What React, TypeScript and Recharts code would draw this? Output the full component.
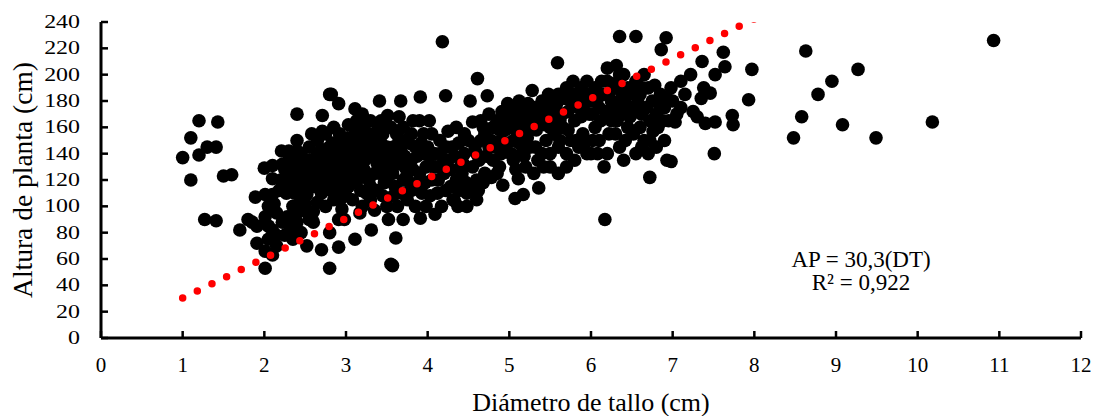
import { ScatterChart, Scatter, XAxis, YAxis } from "recharts";

// diámetro de tallo (cm), altura de planta (cm)
const leftGroup = [
  [1.0, 137], [1.1, 152], [1.2, 165], [1.43, 164], [1.2, 139], [1.3, 145], [1.41, 145],
  [1.1, 120], [1.5, 123], [1.6, 124], [1.27, 90], [1.41, 89],
];

const group2 = [
  [1.7, 82], [1.8, 90], [1.91, 85], [1.89, 107], [2.01, 109], [2.1, 109], [2.01, 92],
  [2.1, 82], [1.91, 72], [2.01, 66], [2.1, 63], [2.01, 53], [2.0, 129], [2.1, 121],
  [2.1, 131], [2.21, 142], [1.85, 88], [2.05, 100], [2.15, 95], [2.05, 75], [2.15, 70],
  [2.25, 128], [2.3, 135], [2.35, 122], [2.4, 130], [2.45, 140], [2.3, 115], [2.4, 118],
  [2.5, 125], [2.5, 112], [2.45, 105], [2.3, 142], [2.55, 135], [2.2, 120], [2.4, 170],
  [2.4, 150], [2.4, 142], [2.31, 119], [2.52, 109], [2.52, 96], [2.4, 88], [2.31, 82],
  [2.52, 70], [2.6, 96], [2.6, 88], [2.45, 80], [2.35, 75],
  [2.05, 85], [2.12, 102], [2.18, 112], [2.22, 132], [2.28, 125], [2.33, 130], [2.38, 137],
  [2.43, 125], [2.48, 132], [2.53, 118], [2.57, 128], [2.27, 110], [2.37, 110], [2.47, 118],
  [2.15, 78], [2.22, 88], [2.28, 92], [2.35, 100], [2.42, 96], [2.5, 102], [2.55, 90],
  [2.32, 90], [2.25, 78],
];

const group3 = [
  [2.6, 130], [2.65, 140], [2.7, 125], [2.75, 135], [2.8, 145], [2.85, 120], [2.9, 130],
  [2.95, 150], [2.6, 115], [2.7, 110], [2.8, 118], [2.9, 112], [2.65, 150], [2.75, 155],
  [2.85, 160], [2.95, 140], [2.71, 169], [2.71, 157], [2.8, 185], [2.91, 178], [2.82, 185],
  [2.7, 67], [2.8, 53], [2.91, 69], [2.8, 80], [2.91, 90], [2.75, 100], [2.85, 105],
  [2.95, 98], [2.65, 103], [2.55, 145], [2.62, 122], [2.78, 128], [2.88, 138], [2.98, 125],
  [2.98, 115], [2.68, 118], [2.58, 155], [2.92, 155], [2.83, 148], [2.72, 143],
  [3.0, 130], [3.05, 140], [3.1, 150], [3.15, 160], [3.2, 170], [3.11, 174], [3.05, 120],
  [3.1, 125], [3.15, 135], [3.2, 145], [3.25, 155], [3.3, 165], [3.35, 150], [3.4, 140],
  [3.45, 130], [3.5, 120], [3.3, 115], [3.25, 110], [3.35, 125], [3.4, 160], [3.45, 155],
  [3.5, 145], [3.51, 169], [3.41, 180], [3.0, 108], [3.17, 95], [3.35, 97], [3.31, 82],
  [3.11, 75], [2.98, 90], [3.2, 100], [3.3, 105], [3.45, 108], [3.5, 100], [3.52, 90],
  [3.03, 162], [3.12, 118], [3.22, 128], [3.28, 140], [3.38, 133], [3.48, 137], [3.18, 152],
  [3.08, 145],
  [2.63, 137], [2.68, 132], [2.73, 122], [2.77, 113], [2.82, 133], [2.87, 126], [2.93, 120],
  [2.97, 135], [3.02, 145], [3.07, 132], [3.13, 140], [3.18, 122], [3.23, 135], [3.27, 148],
  [3.32, 138], [3.37, 145], [3.42, 125], [3.47, 118], [3.33, 155], [3.13, 165], [3.23, 162],
  [2.88, 145], [2.83, 112], [2.93, 105], [3.03, 115], [3.08, 105], [3.38, 112], [3.43, 148],
  [2.67, 127], [2.77, 140], [3.28, 120], [3.18, 112], [3.02, 152], [3.12, 157], [3.43, 165],
  [3.48, 128], [3.15, 128], [3.25, 140],
];

const group4 = [
  [3.55, 130], [3.6, 140], [3.65, 150], [3.7, 160], [3.75, 125], [3.8, 135], [3.85, 145],
  [3.9, 165], [3.91, 183], [3.67, 180], [3.95, 155], [3.6, 115], [3.7, 120], [3.8, 112],
  [3.9, 125], [3.95, 140], [3.57, 55], [3.61, 76], [3.7, 90], [3.63, 100], [3.91, 91],
  [3.85, 100], [3.75, 105], [3.55, 160], [3.65, 168], [3.8, 155], [3.98, 130], [3.58, 145],
  [3.72, 138], [3.88, 118], [3.55, 56],
  [4.09, 94], [4.17, 100], [4.31, 105], [4.48, 100], [4.33, 104], [4.05, 120], [4.1, 130],
  [4.15, 140], [4.2, 125], [4.25, 135], [4.3, 145], [4.35, 120], [4.4, 130], [4.45, 140],
  [4.5, 150], [4.25, 157], [4.22, 184], [4.18, 225], [4.0, 145], [4.05, 155], [4.12, 110],
  [4.38, 112], [4.42, 125], [4.28, 115], [4.47, 118], [4.15, 150], [4.35, 160], [4.45, 155],
  [4.02, 165],
  [3.53, 135], [3.57, 125], [3.62, 132], [3.67, 142], [3.72, 130], [3.77, 148], [3.82, 128],
  [3.87, 138], [3.92, 148], [3.97, 118], [3.62, 155], [3.72, 150], [3.82, 165], [3.93, 110],
  [4.03, 108], [4.08, 140], [4.13, 120], [4.18, 132], [4.23, 145], [4.28, 128], [4.33, 138],
  [4.38, 148], [4.43, 133], [4.48, 110], [4.07, 130], [4.37, 100], [4.22, 112], [3.68, 110],
  [3.78, 118], [3.58, 108], [3.98, 100], [4.02, 138],
];

const group5 = [
  [4.55, 164], [4.52, 180], [4.61, 197], [4.73, 184], [4.6, 105], [4.55, 130], [4.6, 140],
  [4.65, 150], [4.7, 155], [4.75, 145], [4.8, 160], [4.85, 165], [4.9, 150], [4.95, 170],
  [4.91, 172], [4.6, 120], [4.7, 125], [4.8, 135], [4.9, 140], [4.55, 115], [4.92, 116],
  [4.85, 125], [4.95, 158], [4.65, 165], [4.75, 170], [4.98, 178],
  [5.0, 160], [5.05, 150], [5.1, 165], [5.15, 155], [5.2, 170], [5.25, 160], [5.3, 175],
  [5.35, 165], [5.4, 180], [5.45, 170], [5.5, 160], [5.07, 106], [5.17, 109], [5.36, 114],
  [5.11, 121], [5.05, 135], [5.15, 140], [5.25, 145], [5.35, 135], [5.45, 150], [5.2, 130],
  [5.3, 125], [5.4, 140], [5.12, 180], [5.28, 188], [5.05, 175], [5.48, 185], [5.5, 130],
  [4.58, 145], [4.63, 135], [4.68, 160], [4.72, 138], [4.78, 150], [4.83, 145], [4.88, 158],
  [4.93, 162], [4.97, 148], [5.02, 168], [5.08, 158], [5.13, 172], [5.18, 162], [5.23, 178],
  [5.28, 168], [5.33, 158], [5.38, 172], [5.43, 162], [5.48, 178], [4.62, 112], [4.68, 118],
  [4.78, 122], [4.88, 130], [5.02, 140], [5.12, 148], [5.22, 152], [5.32, 145], [5.42, 130],
  [5.18, 138], [5.08, 128],
];

const group6 = [
  [5.59, 209], [5.55, 175], [5.6, 185], [5.65, 170], [5.7, 190], [5.75, 180], [5.8, 165],
  [5.85, 175], [5.9, 185], [5.95, 195], [5.55, 155], [5.6, 145], [5.65, 160], [5.7, 140],
  [5.75, 150], [5.8, 135], [5.85, 145], [5.9, 155], [5.95, 140], [5.6, 125], [5.7, 130],
  [5.5, 140], [5.88, 190], [5.98, 170], [5.78, 195],
  [6.0, 180], [6.05, 190], [6.1, 175], [6.15, 185], [6.2, 195], [6.25, 180], [6.3, 190],
  [6.35, 200], [6.31, 207], [6.35, 229], [6.17, 90], [6.16, 130], [6.05, 160], [6.1, 150],
  [6.2, 140], [6.25, 165], [6.3, 155], [6.35, 145], [6.4, 170], [6.45, 160], [6.5, 175],
  [6.0, 140], [6.4, 135], [6.45, 190], [6.12, 165], [6.28, 172],
  [5.52, 168], [5.58, 178], [5.62, 165], [5.68, 182], [5.72, 172], [5.78, 185], [5.82, 178],
  [5.88, 168], [5.92, 178], [5.97, 185], [6.02, 170], [6.08, 182], [6.13, 195], [6.18, 172],
  [6.22, 186], [6.27, 193], [6.33, 178], [6.38, 185], [6.42, 178], [6.48, 168], [5.62, 150],
  [5.72, 158], [5.82, 150], [5.92, 148], [6.02, 150], [6.08, 140], [6.22, 155], [6.32, 165],
  [6.42, 150], [6.4, 200], [6.2, 205],
];

const group7 = [
  [6.55, 229], [6.92, 228], [6.86, 219], [6.55, 195], [6.6, 185], [6.65, 200], [6.7, 190],
  [6.75, 180], [6.8, 170], [6.85, 185], [6.9, 175], [6.95, 165], [6.6, 160], [6.65, 150],
  [6.7, 140], [6.76, 157], [6.72, 122], [6.93, 135], [6.98, 134], [6.55, 140], [6.8, 145],
  [6.9, 150], [6.62, 170], [6.98, 190], [7.0, 180],
  [6.52, 185], [6.58, 178], [6.63, 190], [6.68, 175], [6.72, 165], [6.78, 192], [6.83, 178],
  [6.88, 165], [6.93, 182], [6.52, 155], [6.62, 145], [6.72, 150], [6.82, 160], [6.5, 190],
  [7.03, 164], [7.1, 195], [7.22, 200], [7.25, 172], [7.35, 182], [7.36, 210], [7.38, 190],
  [7.4, 163], [7.46, 186], [7.52, 200], [7.52, 164], [7.51, 140], [7.62, 217], [7.64, 206],
  [7.73, 169], [7.74, 162], [7.93, 181], [7.97, 204], [7.1, 175], [7.15, 185], [7.05, 170],
  [7.3, 168],
];

const rightGroup = [
  [8.48, 152], [8.58, 168], [8.63, 218], [8.78, 185], [8.95, 195], [9.08, 162], [9.27, 204],
  [9.49, 152], [10.18, 164], [10.93, 226],
];

const xTicks = [0, 1, 2, 3, 4, 5, 6, 7, 8, 9, 10, 11, 12];
const yTicks = [0, 20, 40, 60, 80, 100, 120, 140, 160, 180, 200, 220, 240];

const slope = 30.3;
const r2 = "0,922";
const trendRange = [1, 8];

const points = [...leftGroup, ...group2, ...group3, ...group4, ...group5, ...group6, ...group7, ...rightGroup].map(
  ([x, y]) => ({ x, y })
);
const trend = trendRange.map((x) => ({ x, y: slope * x }));

const FONT = "'Liberation Serif', 'Times New Roman', serif";

const XTick = (props: any) => {
  const { x, y, payload } = props;
  return (
    <text x={x} y={y + 14} textAnchor="middle" fontSize={21} fontFamily={FONT} fill="#000">
      {payload.value}
    </text>
  );
};

// y labels in the source are drawn a bit wide
const YTick = (props: any) => {
  const { x, y, payload } = props;
  return (
    <g transform={`translate(${x},${y + 6})`}>
      <text transform="scale(1.33,1)" textAnchor="end" fontSize={18} fontFamily={FONT} fill="#000">
        {payload.value}
      </text>
    </g>
  );
};

const Dot = (props: any) => <circle cx={props.cx} cy={props.cy} r={6.8} fill="#000" />;

export default function App() {
  return (
    <div style={{ position: "absolute", left: 0, top: 0, width: 1100, height: 416, background: "#fff" }}>
      <ScatterChart width={1100} height={416} margin={{ top: 22, right: 19, bottom: 0, left: 0 }}>
        <XAxis
          type="number"
          dataKey="x"
          domain={[0, 12]}
          ticks={xTicks}
          interval={0}
          height={78}
          tickSize={-7}
          tickMargin={27}
          tick={<XTick />}
          axisLine={{ stroke: "#000", strokeWidth: 3 }}
          tickLine={{ stroke: "#000", strokeWidth: 2.5 }}
          label={{
            value: "Diámetro de tallo (cm)",
            position: "insideBottom",
            offset: 5,
            style: { fontSize: 26, fontFamily: FONT, fill: "#000" },
          }}
        />
        <YAxis
          type="number"
          dataKey="y"
          domain={[0, 240]}
          allowDataOverflow
          ticks={yTicks}
          interval={0}
          width={101}
          tickSize={-7}
          tickMargin={28}
          tick={<YTick />}
          axisLine={{ stroke: "#000", strokeWidth: 3 }}
          tickLine={{ stroke: "#000", strokeWidth: 2.5 }}
          label={{
            value: "Altura de planta (cm)",
            angle: -90,
            position: "insideLeft",
            offset: 22,
            style: { fontSize: 27.5, fontFamily: FONT, fill: "#000", textAnchor: "middle" },
          }}
        />
        <Scatter data={points} shape={<Dot />} isAnimationActive={false} />
        <Scatter
          data={trend}
          shape={() => <g />}
          line={{ stroke: "#ff0000", strokeWidth: 7.5, strokeDasharray: "0 16.3", strokeLinecap: "round" }}
          isAnimationActive={false}
        />
      </ScatterChart>
      <div
        style={{
          position: "absolute",
          left: 760,
          top: 248,
          width: 202,
          textAlign: "center",
          fontFamily: FONT,
          fontSize: 23,
          lineHeight: "23px",
          color: "#000",
        }}
      >
        <div>AP = 30,3(DT)</div>
        <div>R² = {r2}</div>
      </div>
    </div>
  );
}
